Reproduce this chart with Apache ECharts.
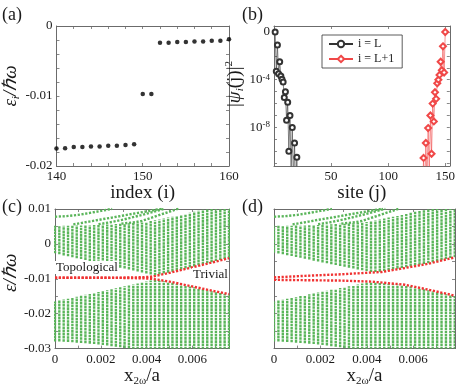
<!DOCTYPE html>
<html>
<head>
<meta charset="utf-8">
<script src="https://cdn.jsdelivr.net/npm/echarts@6/dist/echarts.min.js"></script>
<style>
  html, body { margin: 0; padding: 0; background: #fff; }
  #chart { width: 458px; height: 388px; }
</style>
</head>
<body>
<div id="chart"></div>
<script>
// ----------資料----------
// (a) 能階 ε_i
const indexA = [140, 141, 142, 143, 144, 145, 146, 147, 148, 149, 150, 151, 152, 153, 154, 155, 156, 157, 158, 159, 160];
const energyA = [-0.0175, -0.01745, -0.0173, -0.0173, -0.0172, -0.0172, -0.0171, -0.0171, -0.017, -0.0169,
  -0.0097, -0.0097,
  -0.0024, -0.0024, -0.0023, -0.0023, -0.0022, -0.0022, -0.0021, -0.0021, -0.0019];

// (b) |ψ_i(j)|^2
const sitesL = [1, 2, 3, 4, 5, 6, 7, 8, 9, 10, 11, 12, 13, 14, 15, 16, 17, 18, 19, 20, 21, 22];
const psiL = [1, 5.0e-4, 7.9e-2, 3.2e-4, 3.2e-3, 2.0e-4, 1.1e-4, 6.3e-5, 3.2e-6, 1.0e-5, 4.0e-8,
  1.3e-6, 1.0e-10, 1.0e-7, 2.5e-12, 1.0e-8, 3.2e-13, 5.0e-10, 3.2e-14, 3.2e-11, 3.2e-15, 1.0e-12];
const sitesR = [129, 130, 131, 132, 133, 134, 135, 136, 137, 138, 139, 140, 141, 142, 143, 144, 145, 146, 147, 148, 149, 150];
const psiR = [6.3e-13, 6.3e-15, 2.8e-11, 4.0e-14, 5.0e-10, 2.5e-13, 8.9e-9, 1.6e-12, 1.0e-7, 6.3e-11, 1.0e-6,
  3.2e-8, 8.9e-6, 2.5e-6, 5.0e-5, 1.0e-4, 2.5e-4, 3.2e-3, 6.3e-4, 6.3e-2, 4.0e-4, 1];

// (c)(d) 能帶：每個 x 取樣點的能帶上下緣
const colX = [0, 0.00019, 0.00038, 0.00057, 0.00076, 0.00095, 0.00114, 0.00133, 0.00152, 0.00171,
  0.0019, 0.00209, 0.00228, 0.00247, 0.00266, 0.00285, 0.00304, 0.00323, 0.00342, 0.00361,
  0.0038, 0.00399, 0.00418, 0.00437, 0.00456, 0.00475, 0.00494, 0.00513, 0.00532, 0.00551,
  0.0057, 0.00589, 0.00608, 0.00627, 0.00646, 0.00665, 0.00684, 0.00703, 0.00722, 0.00741,
  0.0076, 0.00779];
const upperTop = [5.2e-3, 5.2e-3, 5.2e-3, 5.2e-3, 5.2e-3, 5.25e-3, 5.3e-3, 5.3e-3, 5.35e-3, 5.4e-3,
  5.45e-3, 5.5e-3, 5.55e-3, 5.6e-3, 5.7e-3, 5.75e-3, 5.8e-3, 5.9e-3, 6.0e-3, 6.05e-3,
  6.1e-3, 6.3e-3, 6.55e-3, 6.8e-3, 7.0e-3, 7.3e-3, 7.6e-3, 7.8e-3, 8.0e-3, 8.3e-3,
  8.6e-3, 8.9e-3, 9.2e-3, 9.5e-3, 9.8e-3, 10.2e-3, 10.2e-3, 10.2e-3, 10.2e-3, 10.2e-3,
  10.2e-3, 10.2e-3];
const lowerBot = [-28.0e-3, -28.0e-3, -28.05e-3, -28.1e-3, -28.2e-3, -28.3e-3, -28.4e-3, -28.5e-3, -28.6e-3, -28.7e-3,
  -28.85e-3, -29.0e-3, -29.1e-3, -29.3e-3, -29.45e-3, -29.6e-3, -29.8e-3, -30.0e-3, -30.2e-3, -30.2e-3,
  -30.2e-3, -30.2e-3, -30.2e-3, -30.2e-3, -30.2e-3, -30.2e-3, -30.2e-3, -30.2e-3, -30.2e-3, -30.2e-3,
  -30.2e-3, -30.2e-3, -30.2e-3, -30.2e-3, -30.2e-3, -30.2e-3, -30.2e-3, -30.2e-3, -30.2e-3, -30.2e-3,
  -30.2e-3, -30.2e-3];
const cUpperBot = [-2.7e-3, -3.0e-3, -3.3e-3, -3.55e-3, -3.8e-3, -4.1e-3, -4.35e-3, -4.6e-3, -4.9e-3, -5.15e-3,
  -5.4e-3, -5.7e-3, -5.95e-3, -6.25e-3, -6.5e-3, -6.8e-3, -7.05e-3, -7.35e-3, -7.6e-3, -7.9e-3,
  -8.2e-3, -8.5e-3, -8.8e-3, -9.05e-3, -8.75e-3, -8.5e-3, -8.25e-3, -7.95e-3, -7.65e-3, -7.35e-3,
  -7.05e-3, -6.75e-3, -6.45e-3, -6.15e-3, -5.85e-3, -5.55e-3, -5.25e-3, -4.9e-3, -4.6e-3, -4.3e-3,
  -4.0e-3, -3.65e-3];
const cLowerTop = [-16.5e-3, -16.25e-3, -15.95e-3, -15.7e-3, -15.4e-3, -15.15e-3, -14.85e-3, -14.6e-3, -14.35e-3, -14.05e-3,
  -13.8e-3, -13.5e-3, -13.25e-3, -12.95e-3, -12.7e-3, -12.45e-3, -12.15e-3, -11.9e-3, -11.6e-3, -11.35e-3,
  -11.05e-3, -10.8e-3, -10.5e-3, -10.3e-3, -10.5e-3, -10.7e-3, -10.9e-3, -11.15e-3, -11.4e-3, -11.65e-3,
  -11.95e-3, -12.2e-3, -12.45e-3, -12.75e-3, -13.0e-3, -13.25e-3, -13.5e-3, -13.8e-3, -14.05e-3, -14.3e-3,
  -14.55e-3, -14.8e-3];
const dUpperBot = [-2.5e-3, -2.75e-3, -3.0e-3, -3.25e-3, -3.5e-3, -3.75e-3, -4.0e-3, -4.25e-3, -4.5e-3, -4.8e-3,
  -5.05e-3, -5.3e-3, -5.55e-3, -5.8e-3, -6.05e-3, -6.3e-3, -6.55e-3, -6.8e-3, -7.05e-3, -7.3e-3,
  -7.55e-3, -7.8e-3, -8.05e-3, -8.05e-3, -7.95e-3, -7.8e-3, -7.55e-3, -7.35e-3, -7.1e-3, -6.9e-3,
  -6.7e-3, -6.45e-3, -6.2e-3, -6.0e-3, -5.75e-3, -5.55e-3, -5.25e-3, -4.95e-3, -4.65e-3, -4.35e-3,
  -4.05e-3, -3.75e-3];
const dLowerTop = [-16.5e-3, -16.25e-3, -16.0e-3, -15.75e-3, -15.45e-3, -15.2e-3, -14.95e-3, -14.7e-3, -14.45e-3, -14.2e-3,
  -13.95e-3, -13.7e-3, -13.4e-3, -13.15e-3, -12.9e-3, -12.65e-3, -12.4e-3, -12.15e-3, -11.9e-3, -11.6e-3,
  -11.35e-3, -11.1e-3, -11.0e-3, -11.05e-3, -11.17e-3, -11.3e-3, -11.42e-3, -11.55e-3, -11.65e-3, -11.8e-3,
  -11.95e-3, -12.2e-3, -12.47e-3, -12.73e-3, -13.0e-3, -13.27e-3, -13.55e-3, -13.85e-3, -14.1e-3, -14.4e-3,
  -14.7e-3, -15.0e-3];

// 上能帶頂端分離出來的能階
const fan1 = [[0, 7.8e-3], [0.0005, 7.95e-3], [0.001, 8.3e-3], [0.0015, 8.85e-3], [0.002, 9.45e-3], [0.0025, 10.05e-3]];
const fan2 = [[0.0008, 5.6e-3], [0.001, 5.8e-3], [0.0015, 6.4e-3], [0.002, 7.0e-3], [0.0025, 7.55e-3], [0.003, 8.15e-3],
  [0.0035, 8.75e-3], [0.004, 9.3e-3], [0.0045, 9.9e-3], [0.0047, 10.1e-3]];
const fan3 = [[0.0019, 5.65e-3], [0.0025, 6.3e-3], [0.003, 7.0e-3], [0.0035, 7.8e-3], [0.0038, 8.3e-3], [0.0043, 9.2e-3], [0.0048, 10.1e-3]];
const fan4 = [[0.0029, 5.8e-3], [0.0035, 6.2e-3], [0.0038, 6.6e-3], [0.0043, 7.7e-3], [0.0048, 8.8e-3], [0.0053, 9.9e-3], [0.0054, 10.1e-3]];

// 邊緣態 (紅)
const cRedUpper = [[0, -9.7e-3], [0.002, -9.7e-3], [0.003, -9.65e-3], [0.0038, -9.55e-3], [0.0042, -9.4e-3], [0.0044, -9.15e-3],
  [0.005, -8.3e-3], [0.006, -6.7e-3], [0.007, -5.1e-3], [0.0076, -4.1e-3]];
const cRedLower = [[0, -9.7e-3], [0.002, -9.7e-3], [0.003, -9.75e-3], [0.0038, -9.85e-3], [0.0042, -10.0e-3], [0.0044, -10.15e-3],
  [0.005, -10.8e-3], [0.006, -12.2e-3], [0.007, -13.6e-3], [0.0076, -14.4e-3]];
const dRedUpper = [[0, -9.6e-3], [0.00134, -9.15e-3], [0.00278, -8.75e-3], [0.0042, -8.2e-3], [0.00464, -8.05e-3],
  [0.00564, -6.9e-3], [0.00664, -5.7e-3], [0.00764, -4.1e-3], [0.0078, -3.85e-3]];
const dRedLower = [[0, -10.3e-3], [0.00134, -10.4e-3], [0.00278, -10.5e-3], [0.0042, -10.8e-3], [0.00564, -11.7e-3],
  [0.00664, -13.1e-3], [0.00764, -14.6e-3], [0.0078, -14.85e-3]];

// 刻度
const ticksAX = [140, 150, 160];
const ticksAY = [0, -0.01, -0.02];
const ticksBX = [50, 100, 150];
const ticksBY = [1, 1e-1, 1e-2, 1e-3, 1e-4, 1e-5, 1e-6, 1e-7, 1e-8, 1e-9, 1e-10, 1e-11];
const labelsBY = [1, 1e-4, 1e-8];
const ticksCX = [0, 0.002, 0.004, 0.006];
const ticksCY = [0.01, 0, -0.01, -0.02, -0.03];
// ------------------------

// ----------樣式----------
const FONT = 'Liberation Serif';
const TEXT = '#1a1a1a';
const AXIS = '#6b6b6b';
const GREEN = '#5ab55a';
const RED = '#f03232';
// ------------------------

const pick = (list, v) => {
  const hit = list.find((t) => Math.abs(t - v) < 1e-9);
  return hit === undefined ? '' : String(hit);
};

const nameStyle = {
  fontFamily: FONT, fontSize: 19, color: TEXT,
  rich: {
    n: { fontSize: 19, fontFamily: FONT, color: TEXT, lineHeight: 22 },
    it: { fontSize: 19, fontFamily: FONT, fontStyle: 'italic', color: TEXT, lineHeight: 22 },
    s: { fontSize: 11, fontFamily: FONT, color: TEXT, verticalAlign: 'bottom', lineHeight: 10 },
    si: { fontSize: 11, fontFamily: FONT, fontStyle: 'italic', color: TEXT, verticalAlign: 'bottom', lineHeight: 10 },
    p: { fontSize: 11, fontFamily: FONT, color: TEXT, verticalAlign: 'top', lineHeight: 12 },
  },
};

const tickLabel = { margin: 4, fontFamily: FONT, fontSize: 13, color: TEXT };

// 外框四邊都有朝內刻度
const makeAxes = (dir, grid, o) => {
  const common = {
    type: o.type || 'value', gridIndex: grid, min: o.min, max: o.max, interval: o.interval,
    splitLine: { show: false },
    axisLine: { show: true, onZero: false, lineStyle: { color: AXIS, width: 1 } },
    axisTick: { show: true, inside: true, length: 3, lineStyle: { color: AXIS, width: 0.8 } },
  };
  if (o.type === 'log') common.logBase = 10;
  if (o.tickValues) common.axisTick.customValues = o.tickValues;
  const main = {
    ...common,
    position: dir === 'x' ? 'bottom' : 'left',
    axisLabel: o.labels ? { ...tickLabel, formatter: o.labels, rich: o.rich, customValues: o.labelValues } : { show: false },
  };
  if (o.name) {
    Object.assign(main, {
      name: o.name, nameLocation: 'middle', nameGap: o.nameGap,
      nameRotate: dir === 'y' ? 90 : 0,
      nameTextStyle: { ...nameStyle, padding: o.namePad || 0 },
    });
  }
  const mirror = { ...common, position: dir === 'x' ? 'top' : 'right', axisLabel: { show: false } };
  return [main, mirror];
};

// 能帶直條 (每個 x 一條虛線段)
const bandSeries = (grid, lo, hi) => ({
  type: 'custom',
  xAxisIndex: grid * 2, yAxisIndex: grid * 2,
  clip: true, silent: true, z: 2,
  data: colX.map((x, k) => [x, lo[k], hi[k]]),
  encode: { x: 0, y: [1, 2] },
  renderItem: (params, api) => {
    const p0 = api.coord([api.value(0), api.value(1)]);
    const p1 = api.coord([api.value(0), api.value(2)]);
    return {
      type: 'line',
      shape: { x1: p0[0], y1: p0[1], x2: p1[0], y2: p1[1] },
      style: { stroke: GREEN, lineWidth: 2.4, lineDash: [2.6, 0.6] },
    };
  },
});

const levelSeries = (grid, data, color, z) => ({
  type: 'line',
  xAxisIndex: grid * 2, yAxisIndex: grid * 2,
  data, symbol: 'none', clip: true, silent: true, z,
  lineStyle: { color, width: 2.4, type: [2.2, 1.6] },
});

const chart = echarts.init(document.getElementById('chart'), null, { renderer: 'canvas' });

const option = {
  animation: false,
  backgroundColor: '#fff',
  grid: [
    { left: 52, top: 26, width: 177, height: 140 },
    { left: 274, top: 26, width: 182, height: 140 },
    { left: 52, top: 209, width: 177, height: 140 },
    { left: 274, top: 209, width: 182, height: 140 },
  ],
  xAxis: [
    ...makeAxes('x', 0, { min: 140, max: 160, interval: 2, labels: (v) => pick(ticksAX, v), name: 'index (i)', nameGap: 12 }),
    ...makeAxes('x', 1, { min: 0, max: 154, interval: 50, labels: (v) => pick(ticksBX, v), name: 'site (j)', nameGap: 12 }),
    ...makeAxes('x', 2, { min: 0, max: 0.0076, interval: 0.001, labels: (v) => pick(ticksCX, v),
      name: '{n|x}{s|2ω}{n|/a}', nameGap: 12 }),
    ...makeAxes('x', 3, { min: 0, max: 0.0078, interval: 0.001, labels: (v) => pick(ticksCX, v),
      name: '{n|x}{s|2ω}{n|/a}', nameGap: 12 }),
  ],
  yAxis: [
    ...makeAxes('y', 0, { min: -0.02, max: 0, interval: 0.002, labels: (v) => pick(ticksAY, v),
      name: '{it|ε}{si|i}{it|/ℏω}', nameGap: 30, namePad: [0, 0, 0, 20] }),
    ...makeAxes('y', 1, {
      type: 'log', min: 5.9e-12, max: 3.16,
      tickValues: ticksBY, labelValues: labelsBY,
      labels: (v) => {
        const r = Math.round(Math.log10(v));
        return r === 0 ? '0' : '{b|10}{p|' + r + '}';
      },
      rich: {
        b: { fontFamily: FONT, fontSize: 13, color: TEXT, lineHeight: 14 },
        p: { fontFamily: FONT, fontSize: 9, color: TEXT, verticalAlign: 'top', lineHeight: 10 },
      },
      name: '{n||}{it|ψ}{si|i}{n|(j)|}{p|2}', nameGap: 24, namePad: [0, 0, 0, 24],
    }),
    ...makeAxes('y', 2, { min: -0.03, max: 0.01, interval: 0.005, labels: (v) => pick(ticksCY, v),
      name: '{it|ε/ℏω}', nameGap: 32, namePad: [0, 0, 0, 12] }),
    ...makeAxes('y', 3, { min: -0.03, max: 0.01, interval: 0.005 }),
  ],
  legend: {
    left: 322, top: 35, orient: 'vertical',
    data: ['i = L', 'i = L+1'],
    itemWidth: 24, itemHeight: 8, itemGap: 3,
    padding: [3, 8, 3, 6],
    borderColor: '#333', borderWidth: 0.8, backgroundColor: '#fff',
    textStyle: { fontFamily: FONT, fontSize: 12, color: TEXT },
  },
  series: [
    // (a)
    {
      type: 'scatter', xAxisIndex: 0, yAxisIndex: 0,
      data: indexA.map((x, i) => [x, energyA[i]]),
      symbol: 'circle', symbolSize: 4.5, itemStyle: { color: '#000' },
    },
    // (b)
    {
      name: 'i = L', type: 'line', xAxisIndex: 2, yAxisIndex: 2, clip: true,
      data: sitesL.map((s, i) => [s, psiL[i]]),
      symbol: 'emptyCircle', symbolSize: 5,
      lineStyle: { color: '#333', width: 0.6 }, itemStyle: { color: '#333', borderWidth: 0.6 },
    },
    {
      name: 'i = L+1', type: 'line', xAxisIndex: 2, yAxisIndex: 2, clip: true,
      data: sitesR.map((s, i) => [s, psiR[i]]),
      symbol: 'emptyDiamond', symbolSize: 6,
      lineStyle: { color: '#f04848', width: 0.6 }, itemStyle: { color: '#f04848', borderWidth: 0.6 },
    },
    // (c)
    bandSeries(2, cUpperBot, upperTop),
    bandSeries(2, lowerBot, cLowerTop),
    levelSeries(2, fan1, GREEN, 3), levelSeries(2, fan2, GREEN, 3),
    levelSeries(2, fan3, GREEN, 3), levelSeries(2, fan4, GREEN, 3),
    levelSeries(2, cRedUpper, RED, 5), levelSeries(2, cRedLower, RED, 5),
    // (d)
    bandSeries(3, dUpperBot, upperTop),
    bandSeries(3, lowerBot, dLowerTop),
    levelSeries(3, fan1, GREEN, 3), levelSeries(3, fan2, GREEN, 3),
    levelSeries(3, fan3, GREEN, 3), levelSeries(3, fan4, GREEN, 3),
    levelSeries(3, dRedUpper, RED, 5), levelSeries(3, dRedLower, RED, 5),
  ],
  graphic: [
    { type: 'text', left: 2, top: 6, z: 100, style: { text: '(a)', fontFamily: FONT, fontSize: 18, fill: TEXT } },
    { type: 'text', left: 242, top: 6, z: 100, style: { text: '(b)', fontFamily: FONT, fontSize: 18, fill: TEXT } },
    { type: 'text', left: 2, top: 198, z: 100, style: { text: '(c)', fontFamily: FONT, fontSize: 18, fill: TEXT } },
    { type: 'text', left: 242, top: 198, z: 100, style: { text: '(d)', fontFamily: FONT, fontSize: 18, fill: TEXT } },
    { type: 'text', left: 55, top: 261, z: 100,
      style: { text: 'Topological', fontFamily: FONT, fontSize: 13, fill: TEXT, backgroundColor: '#fff', padding: [0, 1] } },
    { type: 'text', left: 192, top: 268, z: 100,
      style: { text: 'Trivial', fontFamily: FONT, fontSize: 13, fill: TEXT, backgroundColor: '#fff', padding: [0, 1] } },
  ],
};

chart.setOption(option);
</script>
</body>
</html>
